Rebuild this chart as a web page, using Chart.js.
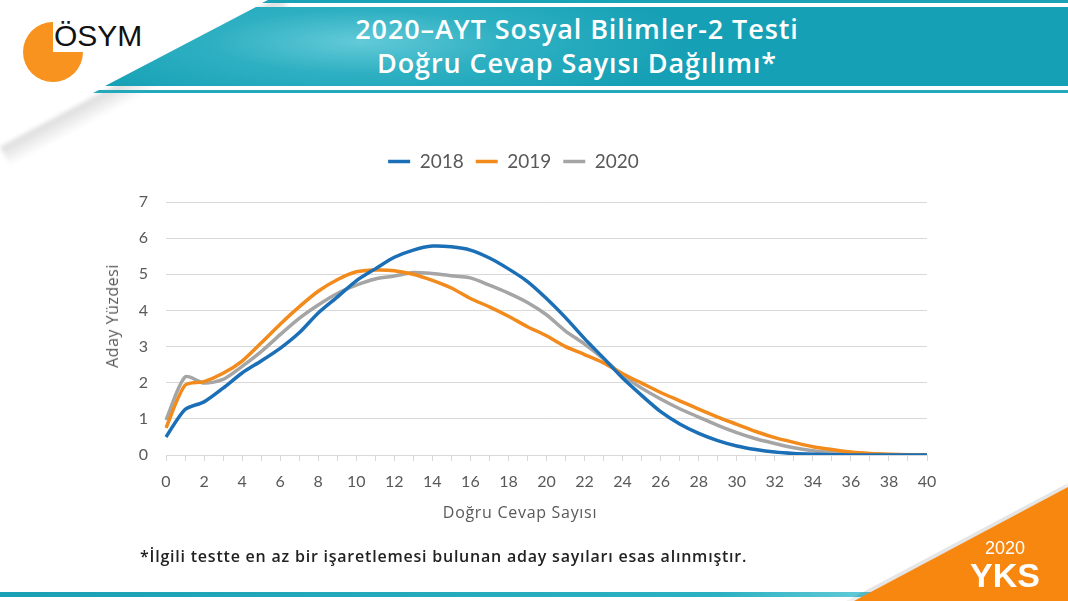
<!DOCTYPE html>
<html lang="tr">
<head>
<meta charset="utf-8">
<title>2020-AYT Sosyal Bilimler-2 Testi</title>
<script src="https://cdn.jsdelivr.net/npm/chart.js@4/dist/chart.umd.min.js"></script>
<style>
  html, body { margin: 0; padding: 0; background: #fff; }
  #sayfa { position: relative; width: 1068px; height: 601px; overflow: hidden; background: #fff; font-family: "Open Sans", Lato, sans-serif; }
  .golge { position: absolute; left: 0; top: 147px; width: 320px; height: 22px; transform-origin: 0 0; transform: rotate(-28.2deg);
           background: linear-gradient(to bottom, rgba(0,0,0,0.14), rgba(0,0,0,0)); filter: blur(2px); }
  .ustCizgi { position: absolute; left: 0; top: 0; width: 1068px; height: 3px; background: #1aa3b7;
              clip-path: polygon(268px 0, 1068px 0, 1068px 3px, 262px 3px); }
  .bant { position: absolute; left: 0; top: 0; width: 1068px; height: 87px;
          background: radial-gradient(ellipse 330px 70px at 360px 42px, #63cad8 0%, #2eb0c2 45%, #16a0b5 100%);
          clip-path: polygon(256px 7px, 1068px 7px, 1068px 86px, 105px 86px); }
  .altCizgi { position: absolute; left: 0; top: 0; width: 1068px; height: 95px; background: #24a9bb;
              clip-path: polygon(99px 90px, 1068px 90px, 1068px 93px, 93px 93px); }
  .daire { position: absolute; left: 23px; top: 22px; width: 60px; height: 60px; border-radius: 50%;
           background: conic-gradient(rgba(255,255,255,0) 0deg 90deg, #f7931e 90deg 360deg); }
  .logoYazi { position: absolute; left: 54px; top: 19px; font-family: "Liberation Sans", Arial, sans-serif; font-size: 30px; color: #111; }
  .baslik { position: absolute; left: 200px; width: 754px; top: 12px; text-align: center; color: #fff; font-weight: 600;
            font-size: 27px; line-height: 34px; letter-spacing: 0.9px; }
  .kutu { position: absolute; left: 0; top: 0; width: 1068px; height: 601px; }
  .eksenX { position: absolute; left: 380px; width: 280px; top: 501px; text-align: center; color: #595959; font-size: 16px; letter-spacing: 0.7px; }
  .eksenY { position: absolute; left: 112px; top: 316px; width: 0; height: 0; }
  .eksenY span { position: absolute; left: 0; top: 0; transform: translate(-50%, -50%) rotate(-90deg); white-space: nowrap;
                 color: #595959; font-size: 16px; letter-spacing: 0.5px; }
  .dipnot { position: absolute; left: 140px; top: 545px; font-size: 16px; font-weight: 600; color: #222; letter-spacing: 0.78px; white-space: nowrap; }
  .footCizgi { position: absolute; left: 0; top: 592px; width: 900px; height: 5px; background: linear-gradient(to right, #1aa0b4, #2cb1c2 80%, #6fd0dc); }
  .turuncu { position: absolute; left: 0; top: 0; width: 1068px; height: 601px; background: #f7870f;
             clip-path: polygon(854px 601px, 1068px 487px, 1068px 601px); }
  .turuncuGolge { position: absolute; left: 0; top: 0; width: 1068px; height: 601px; background: rgba(0,0,0,0.10); filter: blur(4px);
             clip-path: polygon(846px 601px, 1068px 483px, 1068px 601px); }
  .yks { position: absolute; left: 958px; width: 94px; top: 538px; text-align: center; color: #fff; font-family: "Liberation Sans", Arial, sans-serif; }
  .yks span { display: block; font-size: 18px; line-height: 20px; }
  .yks b { display: block; font-size: 34px; line-height: 34px; }
</style>
</head>
<body>
<div id="sayfa">
  <div class="golge"></div>
  <div class="ustCizgi"></div>
  <div class="bant"></div>
  <div class="altCizgi"></div>
  <div class="daire"></div>
  <div class="logoYazi">ÖSYM</div>
  <div class="baslik">2020–AYT Sosyal Bilimler-2 Testi<br>Doğru Cevap Sayısı Dağılımı*</div>
  <div class="kutu"><canvas id="grafik"></canvas></div>
  <div class="eksenX">Doğru Cevap Sayısı</div>
  <div class="eksenY"><span>Aday Yüzdesi</span></div>
  <div class="dipnot">*İlgili testte en az bir işaretlemesi bulunan aday sayıları esas alınmıştır.</div>
  <div class="footCizgi"></div>
  <div class="turuncuGolge"></div>
  <div class="turuncu"></div>
  <div class="yks"><span>2020</span><b>YKS</b></div>
</div>
<script>
// dogru cevap sayisi (0-40)
const dogruSayisi = ['0','1','2','3','4','5','6','7','8','9','10','11','12','13','14','15','16','17','18','19','20',
  '21','22','23','24','25','26','27','28','29','30','31','32','33','34','35','36','37','38','39','40'];

// aday yuzdesi
const seri2018 = [0.5,1.26,1.47,1.85,2.27,2.6,2.95,3.38,3.93,4.37,4.82,5.15,5.47,5.67,5.78,5.76,5.67,5.45,5.15,4.8,4.33,
  3.8,3.22,2.68,2.13,1.65,1.2,0.86,0.6,0.4,0.25,0.15,0.08,0.04,0.02,0.01,0,0,0,0,0];
const seri2019 = [0.75,1.93,2.03,2.26,2.6,3.1,3.62,4.1,4.53,4.85,5.07,5.12,5.1,5.0,4.83,4.62,4.33,4.1,3.84,3.55,3.3,
  3.0,2.78,2.55,2.25,1.99,1.73,1.5,1.27,1.05,0.85,0.65,0.48,0.35,0.23,0.15,0.08,0.04,0.02,0.01,0];
const seri2020 = [0.97,2.16,1.99,2.09,2.45,2.86,3.33,3.78,4.15,4.47,4.7,4.87,4.95,5.05,5.02,4.96,4.9,4.7,4.48,4.22,3.88,
  3.43,3.07,2.66,2.2,1.85,1.55,1.28,1.05,0.82,0.62,0.45,0.32,0.2,0.12,0.07,0.04,0.02,0.01,0,0];

const yillar = ['2018', '2019', '2020'];
const renkler = ['#1b6fb6', '#f28a1c', '#a5a5a5'];

const yaziRengi = '#595959';
const izgaraRengi = '#d9d9d9';
const yaziTipi = 'Lato, "Open Sans", sans-serif';

// legend ile grafik arasina bosluk
const legendBosluk = {
    id : 'legendBosluk',
    beforeInit(chart) {
        const eskiFit = chart.legend.fit;
        chart.legend.fit = function fit() {
            eskiFit.bind(chart.legend)();
            this.height += 21;
        }
    }
}

const ctx = document.getElementById('grafik').getContext('2d');

const grafik = new Chart(ctx, {
    type : 'line',
    data : {
        labels : dogruSayisi,
        datasets : [seri2018, seri2019, seri2020].map((veri, i) => ({
            label : yillar[i],
            data : veri,
            borderColor : renkler[i],
            backgroundColor : renkler[i],
            borderWidth : 3.5,
            pointRadius : 0,
            tension : 0.25,
            fill : false
        }))
    },
    options : {
        responsive : true,
        maintainAspectRatio : false,
        animation : false,
        layout : {
            padding : { top : 140, left : 100, right : 141, bottom : 76 }
        },
        plugins : {
            legend : {
                position : 'top',
                labels : {
                    usePointStyle : true,
                    pointStyle : 'line',
                    pointStyleWidth : 22,
                    padding : 12,
                    color : yaziRengi,
                    font : { family : yaziTipi, size : 19 }
                }
            },
            tooltip : { enabled : false }
        },
        scales : {
            x : {
                grid : { drawOnChartArea : false, drawTicks : true, tickLength : 6, color : izgaraRengi },
                border : { color : izgaraRengi, width : 1 },
                ticks : {
                    autoSkip : false,
                    maxRotation : 0,
                    padding : 11,
                    color : yaziRengi,
                    font : { family : yaziTipi, size : 16 },
                    callback : (deger, i) => i % 2 === 0 ? dogruSayisi[i] : ''
                },
                afterFit : (scale) => { scale.height = 70 }
            },
            y : {
                min : 0,
                max : 7,
                grid : { color : izgaraRengi, drawTicks : false },
                border : { display : false },
                ticks : {
                    stepSize : 1,
                    padding : 18,
                    color : yaziRengi,
                    font : { family : yaziTipi, size : 16 }
                },
                afterFit : (scale) => { scale.width = 66 }
            }
        }
    },
    plugins : [legendBosluk]
})
</script>
</body>
</html>
